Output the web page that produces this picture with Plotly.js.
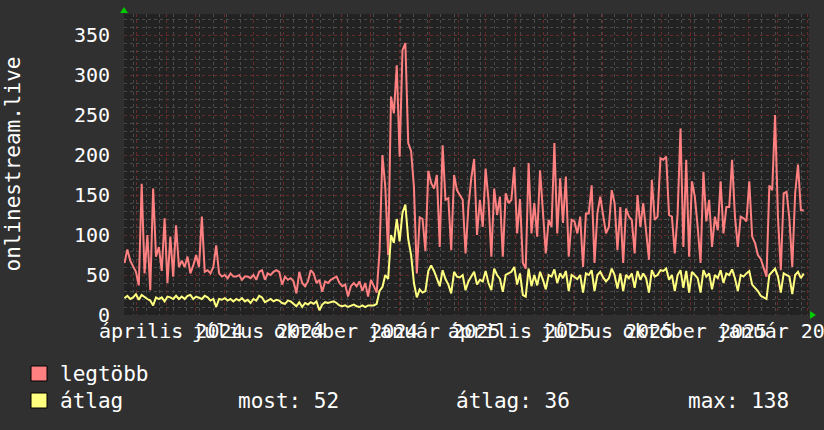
<!DOCTYPE html>
<html><head><meta charset="utf-8">
<script src="https://cdn.plot.ly/plotly-3.0.1.min.js"></script>
<style>html,body{margin:0;padding:0;background:#303030;}#chart{width:824px;height:430px;}</style>
</head><body><div id="chart"></div>
<script>
// ---- data ----
const startDate = "2024-02-17";
const stepDays = 3;
const seriesNames = ["legtöbb", "átlag"];
const legtobb = [65,82,68,60,54,37,164,52,100,31,158,73,85,55,121,40,98,48,112,60,
68,60,73,52,62,75,60,123,54,56,52,60,87,52,48,50,46,52,48,48,
50,44,48,48,46,50,44,54,56,44,52,50,54,56,54,38,48,44,46,42,
27,54,40,36,42,56,52,40,44,29,42,40,44,46,48,40,36,38,23,36,
40,36,42,30,40,23,44,36,28,80,200,160,75,273,252,312,198,331,340,215,
205,160,52,122,120,80,180,165,158,175,85,212,144,146,81,175,156,150,144,77,
135,171,195,100,144,110,183,144,73,158,125,148,73,152,140,144,185,102,145,65,
58,190,102,140,98,181,131,77,119,110,215,102,171,115,173,73,119,117,102,123,
60,127,127,162,65,127,148,127,102,110,156,140,81,135,65,133,123,119,77,150,
110,140,106,69,169,119,123,196,194,198,125,123,77,127,233,85,194,73,167,148,
110,65,179,117,144,85,123,106,167,102,135,135,194,123,85,123,121,117,167,98,
90,75,70,60,48,162,156,250,123,56,152,154,120,60,152,188,131,131];
const atlag = [21,24,20,22,26,19,25,22,20,18,12,22,20,22,17,23,22,20,24,20,
23,20,24,25,20,23,21,20,24,22,18,20,10,20,19,21,18,20,17,20,
18,21,17,19,15,20,18,24,22,16,18,20,17,19,18,15,14,18,17,14,
11,16,10,15,13,16,14,17,6,13,16,15,16,17,15,12,11,12,10,12,
13,11,10,12,10,12,12,12,14,30,35,50,45,100,90,120,92,128,138,95,
75,40,22,32,28,30,55,62,55,45,36,56,45,38,27,54,48,47,50,31,
42,48,54,38,44,42,55,40,31,58,50,45,29,50,52,54,60,38,52,25,
23,58,36,50,37,54,44,32,50,48,57,40,52,46,55,30,50,48,45,50,
28,52,50,56,30,50,54,47,42,46,58,50,33,52,30,50,46,52,34,55,
44,52,46,28,56,48,50,56,55,58,44,50,30,50,56,34,55,28,54,50,
46,28,56,48,52,32,50,46,56,40,52,50,57,46,30,50,48,52,55,38,
34,30,24,22,20,50,54,58,48,28,52,50,48,26,50,54,46,52];
const tickDates = ["2024-04-06","2024-07-06","2024-10-06","2025-01-06","2025-04-06","2025-07-06","2025-10-06","2026-01-06"];
const tickLabels = ["április 2024","július 2024","október 2024","január 2025","április 2025","július 2025","október 2025","január 2026"];
const statLabels = ["most:", "átlag:", "max:"];
const statValues = [52, 36, 138];
const colors = ["#ff8080", "#ffff80"];

// ---- build ----
const t0 = Date.parse(startDate + "T00:00:00Z");
const dates = legtobb.map((_, i) => new Date(t0 + i * stepDays * 86400000).toISOString().slice(0, 19).replace("T", " "));
const FONT = "DejaVu Sans Mono, monospace";
const xRange = ["2024-02-16 12:00", "2026-02-02 12:00"];

const W = 824, H = 430, L = 124, R = 15, T = 14, B = 115;
const PW = W - L - R, PH = H - T - B;
const px = x => (x - L) / PW;
const py = y => (H - B - y) / PH;

const traces = [
  {x: dates, y: legtobb, name: seriesNames[0], type: "scatter", mode: "lines",
   line: {color: colors[0], width: 2}, hoverinfo: "skip"},
  {x: dates, y: atlag, name: seriesNames[1], type: "scatter", mode: "lines",
   line: {color: colors[1], width: 2}, hoverinfo: "skip"},
  {x: [], y: [], xaxis: "x2", yaxis: "y", type: "scatter", mode: "lines", hoverinfo: "skip", showlegend: false}
];

const annotations = [
  {xref: "paper", yref: "paper", x: px(12), y: 0.5, text: "onlinestream.live", textangle: -90,
   showarrow: false, xanchor: "center", yanchor: "middle", font: {family: FONT, size: 21, color: "#ffffff"}},
  {xref: "paper", yref: "paper", x: px(58), y: py(374), text: seriesNames[0], showarrow: false,
   xanchor: "left", yanchor: "middle", font: {family: FONT, size: 21, color: "#ffffff"}},
  {xref: "paper", yref: "paper", x: px(58), y: py(401), text: seriesNames[1], showarrow: false,
   xanchor: "left", yanchor: "middle", font: {family: FONT, size: 21, color: "#ffffff"}}
];
const statX = [236, 454, 686];
statLabels.forEach((s, k) => annotations.push({
  xref: "paper", yref: "paper", x: px(statX[k]), y: py(401), text: s + " " + statValues[k], showarrow: false,
  xanchor: "left", yanchor: "middle", font: {family: FONT, size: 21, color: "#ffffff"}
}));

const shapes = [
  {type: "rect", xref: "paper", yref: "paper", x0: px(31), x1: px(47), y0: py(381), y1: py(366),
   fillcolor: colors[0], line: {color: "#000000", width: 1}},
  {type: "rect", xref: "paper", yref: "paper", x0: px(31), x1: px(47), y0: py(408), y1: py(393),
   fillcolor: colors[1], line: {color: "#000000", width: 1}},
  {type: "path", xref: "paper", yref: "paper", xsizemode: "pixel", ysizemode: "pixel", xanchor: 0, yanchor: 1,
   path: "M -4,1 L 4,1 L 0,7 Z", fillcolor: "#00cc00", line: {width: 0}},
  {type: "path", xref: "paper", yref: "paper", xsizemode: "pixel", ysizemode: "pixel", xanchor: 1, yanchor: 0,
   path: "M 1,4 L 1,-4 L 7,0 Z", fillcolor: "#00cc00", line: {width: 0}}
];

const layout = {
  width: W, height: H,
  paper_bgcolor: "#303030", plot_bgcolor: "#222222",
  margin: {l: L, r: R, t: T, b: B, pad: 0},
  showlegend: false,
  xaxis: {type: "date", range: xRange, tick0: "2024-03-01", dtick: "M1",
    showgrid: true, gridcolor: "rgb(105,42,42)", griddash: "dot", gridwidth: 1,
    showticklabels: false, ticks: "", zeroline: false, showline: false, fixedrange: true,
    minor: {tick0: "2024-02-26", dtick: 14 * 86400000, showgrid: true, gridcolor: "#4a4a4a", griddash: "dot", gridwidth: 1}},
  xaxis2: {type: "date", overlaying: "x", anchor: "y", side: "bottom", range: xRange,
    tickmode: "array", tickvals: tickDates, ticktext: tickLabels, tickangle: 0,
    ticklabeloverflow: "allow", ticklabelstandoff: 2,
    showgrid: false, zeroline: false, ticks: "", showline: false, fixedrange: true,
    tickfont: {family: FONT, size: 20, color: "#ffffff"}},
  yaxis: {range: [0, 376.25], tick0: 0, dtick: 50, showgrid: true,
    gridcolor: "rgb(105,42,42)", griddash: "dot", gridwidth: 1,
    zeroline: false, ticks: "", showline: false, fixedrange: true, ticklabelstandoff: 13,
    tickfont: {family: FONT, size: 20, color: "#ffffff"},
    minor: {tick0: 0, dtick: 10, showgrid: true, gridcolor: "#4a4a4a", griddash: "dot", gridwidth: 1}},
  annotations: annotations,
  shapes: shapes
};

Plotly.newPlot("chart", traces, layout, {staticPlot: true, displayModeBar: false});
</script>
</body></html>
